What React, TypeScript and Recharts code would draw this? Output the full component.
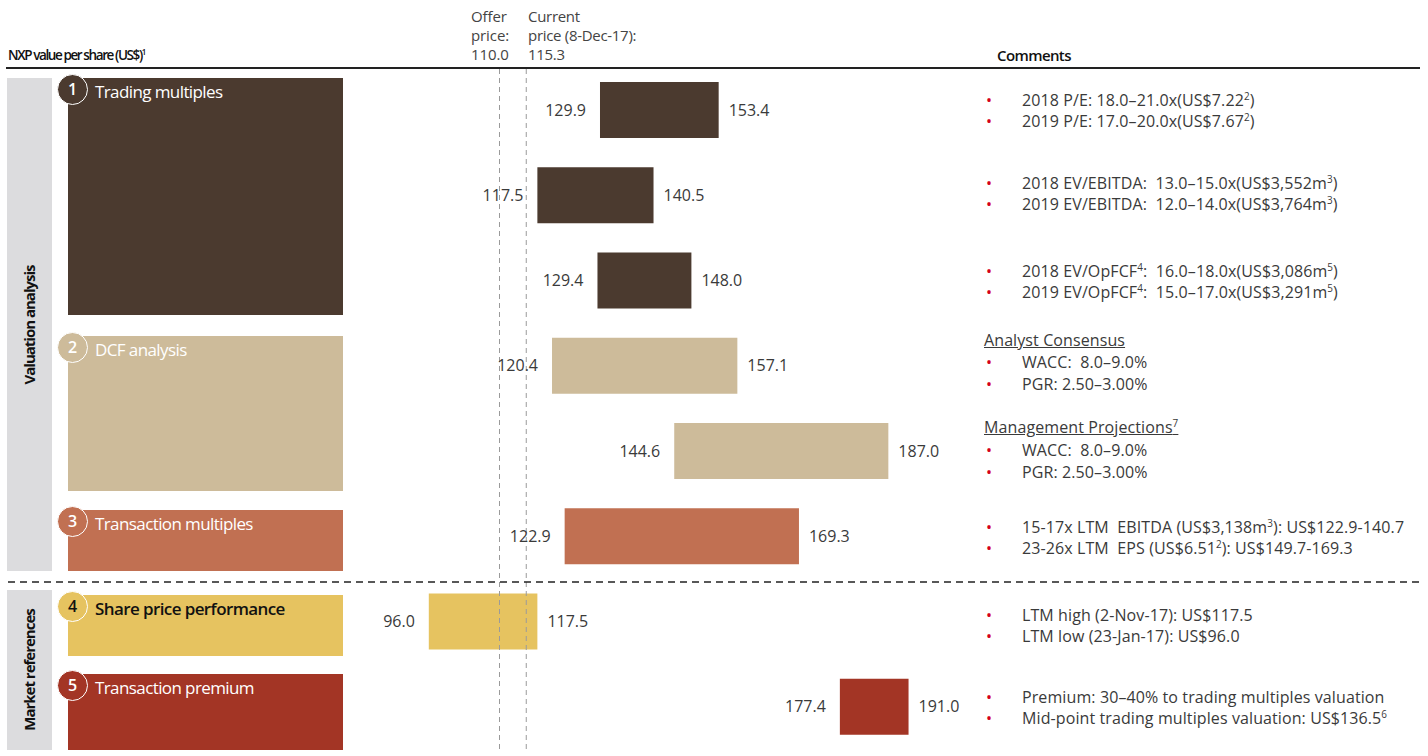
import React from 'react';
import { BarChart, Bar, XAxis, YAxis, Cell, LabelList, ReferenceLine } from 'recharts';

const FONT = '"Open Sans", "Noto Sans", sans-serif';

// ---- data ----
const categories = [
  'Trading P/E',
  'Trading EV/EBITDA',
  'Trading EV/OpFCF',
  'DCF analyst consensus',
  'DCF management projections',
  'Transaction multiples',
  'Share price performance',
  'Transaction premium',
];
const lowValues = [129.9, 117.5, 129.4, 120.4, 144.6, 122.9, 96.0, 177.4];
const highValues = [153.4, 140.5, 148.0, 157.1, 187.0, 169.3, 117.5, 191.0];
const barColors = ['#4b3a2f', '#4b3a2f', '#4b3a2f', '#cdbb9a', '#cdbb9a', '#c17052', '#e6c360', '#a33525'];
const offerPrice = 110.0;
const currentPrice = 115.3;
const xDomain = [80, 200];

const sectionNumbers = ['1', '2', '3', '4', '5'];
const sectionTitles = ['Trading multiples', 'DCF analysis', 'Transaction multiples', 'Share price performance', 'Transaction premium'];
const sectionColors = ['#4b3a2f', '#cdbb9a', '#c17052', '#e6c360', '#a33525'];
const sectionTextColors = ['#ffffff', '#ffffff', '#ffffff', '#111111', '#ffffff'];
const groupTitles = ['Valuation analysis', 'Market references'];

const commentLines = [
  { kind: 'bullet', text: '2018 P/E: 18.0–21.0x(US$7.22^2)' },
  { kind: 'bullet', text: '2019 P/E: 17.0–20.0x(US$7.67^2)' },
  { kind: 'bullet', text: '2018 EV/EBITDA:  13.0–15.0x(US$3,552m^3)' },
  { kind: 'bullet', text: '2019 EV/EBITDA:  12.0–14.0x(US$3,764m^3)' },
  { kind: 'bullet', text: '2018 EV/OpFCF^4:  16.0–18.0x(US$3,086m^5)' },
  { kind: 'bullet', text: '2019 EV/OpFCF^4:  15.0–17.0x(US$3,291m^5)' },
  { kind: 'heading', text: 'Analyst Consensus' },
  { kind: 'bullet', text: 'WACC:  8.0–9.0%' },
  { kind: 'bullet', text: 'PGR: 2.50–3.00%' },
  { kind: 'heading', text: 'Management Projections^7' },
  { kind: 'bullet', text: 'WACC:  8.0–9.0%' },
  { kind: 'bullet', text: 'PGR: 2.50–3.00%' },
  { kind: 'bullet', text: '15-17x LTM  EBITDA (US$3,138m^3): US$122.9-140.7' },
  { kind: 'bullet', text: '23-26x LTM  EPS (US$6.51^2): US$149.7-169.3' },
  { kind: 'bullet', text: 'LTM high (2-Nov-17): US$117.5' },
  { kind: 'bullet', text: 'LTM low (23-Jan-17): US$96.0' },
  { kind: 'bullet', text: 'Premium: 30–40% to trading multiples valuation' },
  { kind: 'bullet', text: 'Mid-point trading multiples valuation: US$136.5^6' },
];

const data = categories.map((name, i) => ({
  name,
  low: lowValues[i],
  high: highValues[i],
  range: [lowValues[i], highValues[i]],
}));

// ---- layout (positions only) ----
const W = 1428;
const H = 756;
const sectionBoxes = [
  { top: 78, bottom: 315 },
  { top: 336, bottom: 491 },
  { top: 510, bottom: 571 },
  { top: 595, bottom: 656 },
  { top: 674, bottom: 750 },
];
const groupBoxes = [
  { top: 78, bottom: 571 },
  { top: 590, bottom: 750 },
];
const commentY = [100, 121, 183, 204, 271, 292, 340, 362, 384, 427, 450, 472, 527, 548, 615, 636, 697, 718];

function RichText({ text }: { text: string }) {
  const parts = text.split(/\^(\d)/);
  return (
    <>
      {parts.map((p, i) =>
        i % 2 === 1 ? (
          <sup key={i} style={{ fontSize: '0.62em', verticalAlign: 'super', lineHeight: 0 }}>{p}</sup>
        ) : (
          <span key={i} style={{ whiteSpace: 'pre' }}>{p}</span>
        )
      )}
    </>
  );
}

const fmt = (v: any) => Number(v).toFixed(1);

export default function App() {
  return (
    <div style={{ position: 'absolute', left: 0, top: 0, width: W, height: H, background: '#fff', fontFamily: FONT, overflow: 'hidden' }}>
      {/* chart */}
      <div style={{ position: 'absolute', left: 0, top: 0 }}>
        <BarChart
          width={W}
          height={H}
          data={data}
          layout="vertical"
          margin={{ top: 67, right: W - 954, bottom: 7, left: 348 }}
          barSize={56}
        >
          <XAxis type="number" domain={xDomain} hide allowDataOverflow />
          <YAxis type="category" dataKey="name" hide />
          <ReferenceLine x={offerPrice} stroke="#9a9a9a" strokeDasharray="5 4" strokeWidth={1} />
          <ReferenceLine x={currentPrice} stroke="#9a9a9a" strokeDasharray="5 4" strokeWidth={1} />
          <Bar dataKey="range" isAnimationActive={false}>
            {data.map((d, i) => (
              <Cell key={d.name} fill={barColors[i]} />
            ))}
            <LabelList dataKey="low" position="left" offset={14} formatter={fmt} fill="#3a3a3a" fontSize={16} fontFamily={FONT} />
            <LabelList dataKey="high" position="right" offset={10} formatter={fmt} fill="#3a3a3a" fontSize={16} fontFamily={FONT} />
          </Bar>
        </BarChart>
      </div>

      {/* header */}
      <div style={{ position: 'absolute', left: 8, top: 45, fontSize: 13.5, fontWeight: 600, letterSpacing: -1.4, color: '#111', lineHeight: '20px', whiteSpace: 'nowrap' }}>
        NXP value per share (US$)<sup style={{ fontSize: 8, verticalAlign: 'super', lineHeight: 0 }}>1</sup>
      </div>
      <div style={{ position: 'absolute', left: 471, top: 7, fontSize: 15, color: '#444', lineHeight: '19px', letterSpacing: -0.1 }}>
        Offer<br />price:<br />110.0
      </div>
      <div style={{ position: 'absolute', left: 528, top: 7, fontSize: 15, color: '#444', lineHeight: '19px', letterSpacing: -0.3, whiteSpace: 'nowrap' }}>
        Current<br />price (8-Dec-17):<br />115.3
      </div>
      <div style={{ position: 'absolute', left: 997, top: 45, fontSize: 15, fontWeight: 600, letterSpacing: -0.6, color: '#111', lineHeight: '20px' }}>
        Comments
      </div>
      <div style={{ position: 'absolute', left: 6, top: 67, width: 1414, height: 1.5, background: '#222' }} />

      {/* dashed separator */}
      <svg style={{ position: 'absolute', left: 0, top: 578 }} width={W} height={8}>
        <line x1={8} y1={4} x2={1420} y2={4} stroke="#222" strokeWidth={1.5} strokeDasharray="7 5" />
      </svg>

      {/* group bands */}
      {groupBoxes.map((g, i) => (
        <div
          key={groupTitles[i]}
          style={{ position: 'absolute', left: 7, top: g.top, width: 45, height: g.bottom - g.top, background: '#dcdcde' }}
        >
          <div
            style={{
              position: 'absolute',
              left: 22,
              top: (g.bottom - g.top) / 2,
              transform: 'translate(-50%, -50%) rotate(-90deg)',
              whiteSpace: 'nowrap',
              fontSize: 15,
              fontWeight: 700,
              letterSpacing: -1,
              color: '#111',
            }}
          >
            {groupTitles[i]}
          </div>
        </div>
      ))}

      {/* section blocks */}
      {sectionBoxes.map((b, i) => (
        <React.Fragment key={sectionTitles[i]}>
          <div style={{ position: 'absolute', left: 68, top: b.top, width: 275, height: b.bottom - b.top, background: sectionColors[i] }} />
          <div
            style={{
              position: 'absolute',
              left: 57,
              top: b.top - 4,
              width: 29,
              height: 29,
              borderRadius: '50%',
              background: sectionColors[i],
              border: '1.5px solid #ffffff',
              color: sectionTextColors[i],
              fontSize: 16,
              fontWeight: 600,
              textAlign: 'center',
              lineHeight: '29px',
            }}
          >
            {sectionNumbers[i]}
          </div>
          <div
            style={{
              position: 'absolute',
              left: 95,
              top: b.top + 2,
              fontSize: 17,
              letterSpacing: -0.6,
              color: sectionTextColors[i],
              lineHeight: '24px',
              whiteSpace: 'nowrap',
              fontWeight: i === 3 ? 600 : 500,
            }}
          >
            {sectionTitles[i]}
          </div>
        </React.Fragment>
      ))}

      {/* comments */}
      {commentLines.map((c, i) => (
        <div
          key={i}
          style={{
            position: 'absolute',
            left: 984,
            top: commentY[i] - 9,
            height: 18,
            lineHeight: '18px',
            fontSize: 16,
            color: '#3a3a3a',
            whiteSpace: 'nowrap',
            letterSpacing: 0.1,
            overflow: 'visible',
          }}
        >
          {c.kind === 'bullet' ? (
            <>
              <span style={{ color: '#d4001a', display: 'inline-block', width: 36, paddingLeft: 2, lineHeight: '18px' }}>•</span>
              <RichText text={c.text} />
            </>
          ) : (
            <span style={{ textDecoration: 'underline' }}>
              <RichText text={c.text} />
            </span>
          )}
        </div>
      ))}
    </div>
  );
}
